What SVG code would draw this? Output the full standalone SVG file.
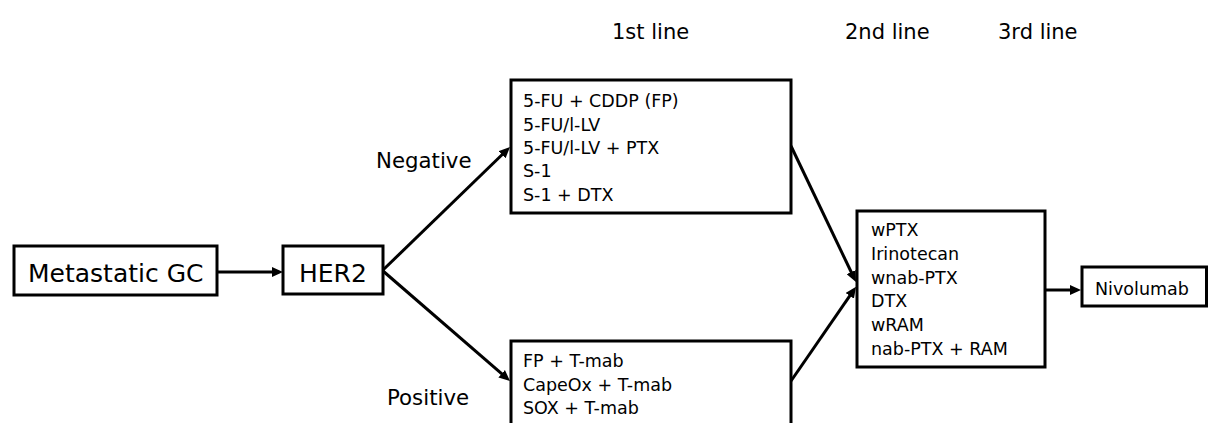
<svg xmlns="http://www.w3.org/2000/svg" width="1208" height="423" viewBox="0 0 1208 423">
  <defs>
    <marker id="arrow" markerUnits="userSpaceOnUse" markerWidth="12" markerHeight="10" refX="6" refY="5" orient="auto">
      <path d="M0,0 L11,5 L0,10 z" fill="#000"/>
    </marker>
    <style>
      text { font-family: "DejaVu Sans", Verdana, sans-serif; fill: #000; }
      .box { fill: #fff; stroke: #000; stroke-width: 3; }
      .big { font-size: 25px; }
      .item { font-size: 17.5px; }
      .branch { font-size: 21.3px; }
      .head { font-size: 21px; }
      .conn line { stroke: #000; stroke-width: 3; marker-end: url(#arrow); }
    </style>
  </defs>
  <rect width="1208" height="423" fill="#fff"/>

  <!-- column headers -->
  <g id="headers">
    <text class="head" x="612" y="39">1st line</text>
    <text class="head" x="845" y="39">2nd line</text>
    <text class="head" x="998" y="39">3rd line</text>
  </g>

  <!-- connectors -->
  <g id="connectors" class="conn">
    <line x1="217" y1="272" x2="278" y2="272"/>
    <line x1="383" y1="270" x2="506.4" y2="150.5"/>
    <line x1="383" y1="271" x2="506.2" y2="377.7"/>
    <line x1="791" y1="146" x2="853.8" y2="277.5"/>
    <line x1="791" y1="381" x2="853.2" y2="290.9"/>
    <line x1="1045" y1="290" x2="1076" y2="290"/>
  </g>

  <!-- branch labels -->
  <g id="branch-labels">
    <text class="branch" x="376" y="168">Negative</text>
    <text class="branch" x="387" y="405">Positive</text>
  </g>

  <g id="node-metastatic">
    <rect class="box" x="14" y="246" width="203" height="49"/>
    <text class="big" x="28" y="282">Metastatic GC</text>
  </g>

  <g id="node-her2">
    <rect class="box" x="283" y="246" width="100" height="48"/>
    <text class="big" x="299" y="282">HER2</text>
  </g>

  <g id="node-negative">
    <rect class="box" x="511" y="80" width="280" height="133"/>
    <text class="item" x="523" y="107">5-FU + CDDP (FP)</text>
    <text class="item" x="523" y="130.5">5-FU/l-LV</text>
    <text class="item" x="523" y="154">5-FU/l-LV + PTX</text>
    <text class="item" x="523" y="177">S-1</text>
    <text class="item" x="523" y="200.5">S-1 + DTX</text>
  </g>

  <g id="node-positive">
    <rect class="box" x="511" y="341" width="280" height="100"/>
    <text class="item" x="523" y="367">FP + T-mab</text>
    <text class="item" x="523" y="390.5">CapeOx + T-mab</text>
    <text class="item" x="523" y="413.5">SOX + T-mab</text>
  </g>

  <g id="node-second-line">
    <rect class="box" x="857" y="211" width="188" height="156"/>
    <text class="item" x="871" y="236">wPTX</text>
    <text class="item" x="871" y="260">Irinotecan</text>
    <text class="item" x="871" y="283.5">wnab-PTX</text>
    <text class="item" x="871" y="307">DTX</text>
    <text class="item" x="871" y="331">wRAM</text>
    <text class="item" x="871" y="355">nab-PTX + RAM</text>
  </g>

  <g id="node-third-line">
    <rect class="box" x="1082" y="267" width="124.5" height="39"/>
    <text class="item" x="1095" y="295">Nivolumab</text>
  </g>
</svg>
